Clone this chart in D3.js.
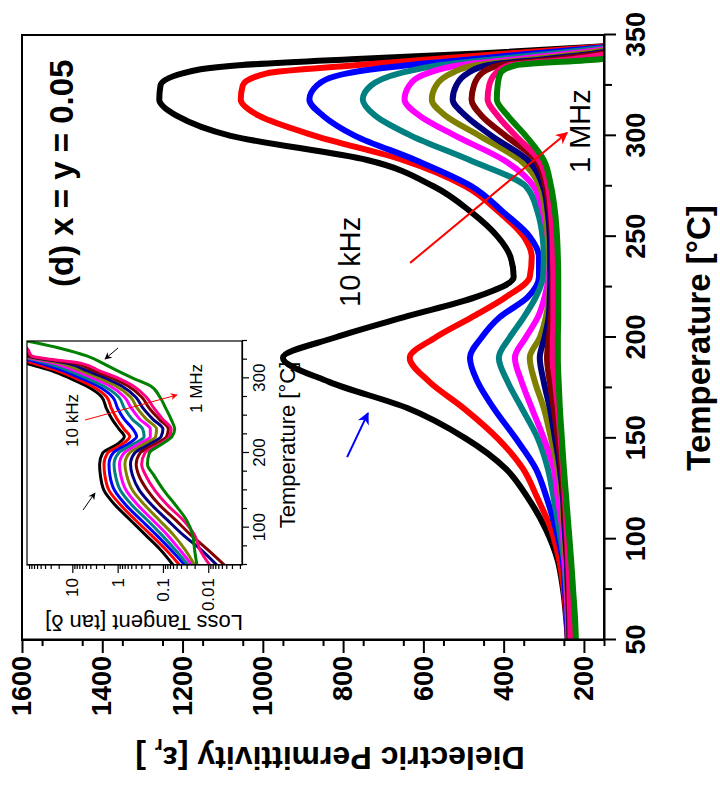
<!DOCTYPE html>
<html>
<head>
<meta charset="utf-8">
<script src="https://cdn.jsdelivr.net/npm/d3@7"></script>
<style>
  body { margin: 0; background: #fff; }
  svg { display: block; font-family: "Liberation Sans", Arial, sans-serif; }
</style>
</head>
<body>
<svg id="chart" width="720" height="793"></svg>
<script>
// ---- main plot data: permittivity vs temperature, one array per frequency ----
const mainTemps = [50, 60, 75, 90, 105, 120, 135, 150, 165, 178, 190, 200, 210, 220, 230, 240, 250, 262, 275, 288, 300, 310, 318, 325, 331, 335, 338, 341, 345];
const epsBlack   = [240, 244, 252, 266, 295, 338, 395, 495, 640, 835, 950, 820, 650, 470, 375, 383, 415, 480, 575, 740, 1080, 1215, 1258, 1255, 1200, 1060, 780, 450, 100];
const epsRed     = [240, 243, 250, 262, 282, 315, 352, 415, 500, 585, 634, 570, 480, 395, 335, 330, 350, 410, 495, 650, 870, 1010, 1055, 1050, 990, 770, 580, 380, 100];
const epsBlue    = [240, 242, 247, 253, 270, 292, 320, 370, 425, 465, 484, 455, 410, 340, 312, 312, 335, 400, 480, 620, 770, 850, 884, 865, 790, 640, 480, 320, 90];
const epsTeal    = [238, 240, 244, 250, 262, 275, 290, 315, 355, 390, 412, 385, 350, 320, 302, 300, 303, 315, 345, 485, 630, 720, 751, 730, 660, 560, 420, 270, 80];
const epsMagenta = [238, 240, 243, 248, 254, 265, 275, 300, 330, 355, 372, 345, 315, 298, 288, 285, 290, 302, 325, 400, 520, 610, 647, 635, 590, 510, 370, 230, 70];
const epsOlive   = [237, 238, 241, 245, 250, 255, 265, 282, 300, 322, 335, 310, 295, 287, 285, 287, 290, 296, 310, 360, 460, 545, 579, 568, 530, 470, 330, 200, 60];
const epsNavy    = [236, 237, 240, 243, 248, 252, 260, 272, 285, 300, 310, 298, 288, 285, 284, 284, 285, 290, 302, 340, 430, 495, 527, 518, 490, 440, 300, 170, 50];
const epsMaroon  = [235, 236, 238, 241, 245, 250, 256, 265, 275, 285, 292, 287, 282, 280, 279, 279, 280, 285, 296, 320, 395, 455, 480, 474, 455, 410, 270, 150, 50];
const epsPink    = [233, 234, 236, 239, 243, 247, 252, 258, 265, 272, 278, 277, 276, 276, 276, 277, 278, 282, 290, 312, 370, 415, 440, 436, 420, 385, 230, 130, 40];
const epsGreen   = [220, 222, 227, 232, 238, 244, 250, 255, 260, 263, 265, 265, 264, 264, 264, 265, 267, 272, 282, 300, 345, 390, 417, 415, 408, 370, 160, 60, 30];

const tempTicks = [50, 100, 150, 200, 250, 300, 350];
const epsTicks = [200, 400, 600, 800, 1000, 1200, 1400, 1600];

// ---- inset data: loss tangent vs temperature ----
const insetTemps = [50, 70, 90, 110, 130, 150, 170, 185, 200, 212, 222, 232, 245, 260, 275, 290, 300, 310, 320, 330, 340, 350];
const tanBlack   = [0.060, 0.112, 0.24, 0.52, 1.12, 2.0, 2.4, 2.5, 2.14, 1.0, 0.71, 0.93, 1.32, 1.78, 2.24, 5.0, 11.2, 28, 100, 250, 630, 1580];
const tanRed     = [0.043, 0.085, 0.182, 0.40, 0.85, 1.55, 1.91, 2.0, 1.66, 0.78, 0.54, 0.72, 1.02, 1.38, 1.74, 3.8, 8.5, 21, 71, 200, 500, 1260];
const tanBlue    = [0.033, 0.066, 0.138, 0.30, 0.65, 1.17, 1.48, 1.55, 1.26, 0.59, 0.38, 0.46, 0.71, 1.0, 1.29, 2.8, 6.3, 15.8, 50, 178, 400, 1000];
const tanTeal    = [0.028, 0.053, 0.105, 0.22, 0.48, 0.87, 1.12, 1.20, 0.95, 0.45, 0.26, 0.28, 0.47, 0.71, 0.95, 2.1, 4.7, 11.7, 35, 151, 316, 794];
const tanMagenta = [0.023, 0.042, 0.079, 0.166, 0.355, 0.65, 0.85, 0.91, 0.72, 0.34, 0.19, 0.19, 0.32, 0.50, 0.71, 1.51, 3.4, 8.5, 25, 132, 251, 631];
const tanOlive   = [0.020, 0.032, 0.058, 0.120, 0.25, 0.47, 0.63, 0.69, 0.55, 0.26, 0.145, 0.138, 0.23, 0.37, 0.52, 1.12, 2.5, 6.3, 17.8, 115, 200, 500];
const tanNavy    = [0.0065, 0.0141, 0.0355, 0.079, 0.174, 0.33, 0.47, 0.52, 0.42, 0.195, 0.110, 0.100, 0.166, 0.275, 0.40, 0.83, 1.78, 4.6, 12.6, 100, 158, 398];
const tanMaroon  = [0.0044, 0.0100, 0.024, 0.052, 0.117, 0.22, 0.34, 0.39, 0.32, 0.148, 0.083, 0.076, 0.120, 0.20, 0.295, 0.60, 1.26, 3.3, 8.9, 89, 126, 316];
const tanPink    = [0.0093, 0.0151, 0.020, 0.0355, 0.079, 0.151, 0.24, 0.295, 0.25, 0.117, 0.072, 0.066, 0.100, 0.158, 0.234, 0.46, 0.95, 2.5, 6.3, 79, 100, 251];
const tanGreen   = [0.0178, 0.020, 0.022, 0.030, 0.0525, 0.096, 0.158, 0.22, 0.20, 0.105, 0.063, 0.055, 0.066, 0.087, 0.117, 0.19, 0.45, 1.0, 2.1, 4.8, 17.8, 100];

const insetTempTicks = [100, 200, 300];
const insetTanTicks = [0.01, 0.1, 1, 10];

const colors = ["#000000", "#ff0000", "#0000ff", "#008080", "#ff00ff", "#808000", "#000080", "#800000", "#ff0080", "#008000"];
const mainSeries = [epsBlack, epsRed, epsBlue, epsTeal, epsMagenta, epsOlive, epsNavy, epsMaroon, epsPink, epsGreen];
const insetSeries = [tanBlack, tanRed, tanBlue, tanTeal, tanMagenta, tanOlive, tanNavy, tanMaroon, tanPink, tanGreen];

const svg = d3.select("#chart");
const defs = svg.append("defs");
svg.append("rect").attr("width", 720).attr("height", 793).attr("fill", "#fff");

// whole figure is turned a quarter turn counter-clockwise
const g = svg.append("g").attr("transform", "translate(0,793) rotate(-90)");

const x = d3.scaleLinear().domain([50, 350]).range([153, 758]);
const y = d3.scaleLinear().domain([150, 1600]).range([604, 22]);

defs.append("clipPath").attr("id", "main-clip")
  .append("rect").attr("x", 153).attr("y", 22).attr("width", 605).attr("height", 582);

function marker(id, color, w, h) {
  defs.append("marker").attr("id", id)
    .attr("viewBox", "0 0 10 10").attr("refX", 9).attr("refY", 5)
    .attr("markerWidth", w).attr("markerHeight", h)
    .attr("markerUnits", "userSpaceOnUse").attr("orient", "auto")
    .append("path").attr("d", "M0,0 L10,5 L0,10 L3,5 z").attr("fill", color);
}
marker("arr-red", "#ff0000", 18, 12);
marker("arr-blue", "#0000ff", 18, 12);
marker("arr-black-s", "#000000", 9, 7);
marker("arr-red-s", "#ff0000", 10, 7);

// main curves
const mainLine = d3.line()
  .x((d, i) => x(mainTemps[i]))
  .y(d => y(d))
  .curve(d3.curveMonotoneX);

g.append("g").attr("clip-path", "url(#main-clip)")
  .selectAll("path").data(mainSeries).join("path")
  .attr("d", mainLine)
  .attr("fill", "none")
  .attr("stroke", (d, i) => colors[i])
  .attr("stroke-width", 6)
  .attr("stroke-linejoin", "round");

// frame
g.append("rect").attr("x", 153).attr("y", 22).attr("width", 605).attr("height", 582)
  .attr("fill", "none").attr("stroke", "#000").attr("stroke-width", 2);

function styleAxis(sel, w) {
  sel.select(".domain").attr("stroke-width", w);
  sel.selectAll(".tick line").attr("stroke-width", w);
}

// temperature axis
const xAxis = g.append("g").attr("transform", "translate(0,604)")
  .call(d3.axisBottom(x).tickValues(tempTicks).tickSize(12).tickSizeOuter(0).tickPadding(10)
    .tickFormat(d3.format("d")));
xAxis.call(styleAxis, 2);
xAxis.selectAll("text").attr("font-size", 27).attr("font-weight", "bold")
  .attr("font-family", "Liberation Sans, Arial, sans-serif");
g.append("g").attr("transform", "translate(0,604)")
  .call(d3.axisBottom(x).tickValues(d3.range(75, 350, 50)).tickSize(8).tickFormat(""))
  .call(styleAxis, 2).select(".domain").remove();

// permittivity axis
const yAxis = g.append("g").attr("transform", "translate(153,0)")
  .call(d3.axisLeft(y).tickValues(epsTicks).tickSize(13).tickSizeOuter(0).tickPadding(3)
    .tickFormat(d3.format("d")));
yAxis.call(styleAxis, 2);
yAxis.selectAll("text").attr("font-size", 27).attr("font-weight", "bold")
  .attr("font-family", "Liberation Sans, Arial, sans-serif");
g.append("g").attr("transform", "translate(153,0)")
  .call(d3.axisLeft(y).tickValues(d3.range(150, 1600, 100)).tickSize(6).tickFormat(""))
  .call(styleAxis, 2).select(".domain").remove();

// axis titles
g.append("text").attr("x", 455).attr("y", 710).attr("text-anchor", "middle")
  .attr("font-size", 33).attr("font-weight", "bold").text("Temperature [°C]");

const yTitle = g.append("text").attr("transform", "translate(46,330) rotate(-90)")
  .attr("text-anchor", "middle").attr("font-size", 32).attr("font-weight", "bold");
yTitle.append("tspan").text("Dielectric Permittivity [ε");
yTitle.append("tspan").attr("font-size", 20).attr("dy", 8).text("r");
yTitle.append("tspan").attr("dy", -8).text(" ]");

// annotations
g.append("text").attr("x", 506).attr("y", 73).attr("font-size", 33).attr("font-weight", "bold")
  .text("(d) x = y = 0.05");
g.append("text").attr("x", 486).attr("y", 360).attr("font-size", 29).text("10 kHz");
g.append("text").attr("x", 620).attr("y", 590).attr("font-size", 29).text("1 MHz");

g.append("line")
  .attr("x1", x(237)).attr("y1", y(633)).attr("x2", x(301.5)).attr("y2", y(242))
  .attr("stroke", "#ff0000").attr("stroke-width", 2).attr("marker-end", "url(#arr-red)");
g.append("line")
  .attr("x1", x(140.7)).attr("y1", y(790)).attr("x2", x(162.5)).attr("y2", y(738))
  .attr("stroke", "#0000ff").attr("stroke-width", 2).attr("marker-end", "url(#arr-blue)");

// ---- inset ----
const ix = d3.scaleLinear().domain([50, 350]).range([228, 452]);
const iy = d3.scaleLog().domain([0.0018, 100]).range([242, 27]);

defs.append("clipPath").attr("id", "inset-clip")
  .append("rect").attr("x", 228).attr("y", 27).attr("width", 224).attr("height", 215);

const inset = g.append("g");
inset.append("rect").attr("x", 228).attr("y", 27).attr("width", 224).attr("height", 215)
  .attr("fill", "#fff");

const insetLine = d3.line()
  .x((d, i) => ix(insetTemps[i]))
  .y(d => iy(d))
  .curve(d3.curveMonotoneX);

inset.append("g").attr("clip-path", "url(#inset-clip)")
  .selectAll("path").data(insetSeries).join("path")
  .attr("d", insetLine)
  .attr("fill", "none")
  .attr("stroke", (d, i) => colors[i])
  .attr("stroke-width", 3)
  .attr("stroke-linejoin", "round");

inset.append("rect").attr("x", 228).attr("y", 27).attr("width", 224).attr("height", 215)
  .attr("fill", "none").attr("stroke", "#000").attr("stroke-width", 1.2);

const ixAxis = inset.append("g").attr("transform", "translate(0,242)")
  .call(d3.axisBottom(ix).tickValues(insetTempTicks).tickSize(7).tickSizeOuter(0).tickPadding(4));
ixAxis.call(styleAxis, 1.2);
ixAxis.selectAll("text").attr("font-size", 17).attr("font-family", "Liberation Sans, Arial, sans-serif");
inset.append("g").attr("transform", "translate(0,242)")
  .call(d3.axisBottom(ix).tickValues([50, 75, 125, 150, 175, 225, 250, 275, 325, 350]).tickSize(5).tickFormat(""))
  .call(styleAxis, 1.2).select(".domain").remove();

const minorTan = [];
[0.001, 0.01, 0.1, 1, 10].forEach(b => [2, 3, 4, 5, 6, 7, 8, 9].forEach(k => {
  const v = b * k;
  if (v >= 0.0018 && v <= 100) minorTan.push(v);
}));
const iyAxis = inset.append("g").attr("transform", "translate(228,0)")
  .call(d3.axisLeft(iy).tickValues(insetTanTicks).tickSize(8).tickSizeOuter(0).tickPadding(5)
    .tickFormat(d => String(d)));
iyAxis.call(styleAxis, 1.2);
iyAxis.selectAll("text").attr("font-size", 17).attr("font-family", "Liberation Sans, Arial, sans-serif");
inset.append("g").attr("transform", "translate(228,0)")
  .call(d3.axisLeft(iy).tickValues(minorTan).tickSize(4).tickFormat(""))
  .call(styleAxis, 1.2).select(".domain").remove();

inset.append("text").attr("x", 348).attr("y", 295).attr("text-anchor", "middle")
  .attr("font-size", 22).text("Temperature [°C]");
inset.append("text").attr("transform", "translate(178,144) rotate(-90)")
  .attr("text-anchor", "middle").attr("font-size", 22).text("Loss Tangent [tan δ]");
inset.append("text").attr("x", 346).attr("y", 78).attr("font-size", 17).text("10 kHz");
inset.append("text").attr("x", 380).attr("y", 202).attr("font-size", 17).text("1 MHz");

inset.append("line")
  .attr("x1", ix(123.7)).attr("y1", iy(5.8)).attr("x2", ix(146.4)).attr("y2", iy(3.16))
  .attr("stroke", "#000").attr("stroke-width", 1).attr("marker-end", "url(#arr-black-s)");
inset.append("line")
  .attr("x1", ix(340.6)).attr("y1", iy(0.98)).attr("x2", ix(325.9)).attr("y2", iy(1.9))
  .attr("stroke", "#000").attr("stroke-width", 1).attr("marker-end", "url(#arr-black-s)");
inset.append("line")
  .attr("x1", ix(244.2)).attr("y1", iy(5.25)).attr("x2", ix(277.7)).attr("y2", iy(0.049))
  .attr("stroke", "#ff0000").attr("stroke-width", 1).attr("marker-end", "url(#arr-red-s)");
</script>
</body>
</html>
